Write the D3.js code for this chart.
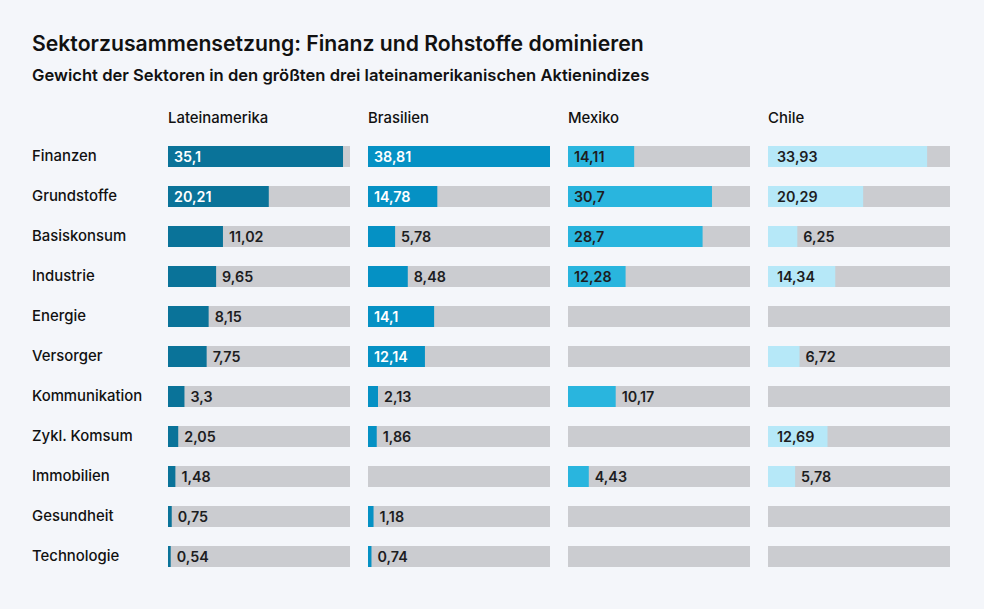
<!doctype html>
<html lang="de">
<head>
<meta charset="utf-8">
<title>Sektorzusammensetzung</title>
<script src="https://cdnjs.cloudflare.com/ajax/libs/d3/7.8.5/d3.min.js"></script>
<style>
  body { margin: 0; background: #f4f6fa; }
  svg { display: block; font-family: Inter, "Open Sans", sans-serif; }
</style>
</head>
<body>
<svg id="svg" width="984" height="609"></svg>
<script>
  // data
  var sectors = ['Finanzen', 'Grundstoffe', 'Basiskonsum', 'Industrie', 'Energie', 'Versorger',
                 'Kommunikation', 'Zykl. Komsum', 'Immobilien', 'Gesundheit', 'Technologie'];
  var regions = ['Lateinamerika', 'Brasilien', 'Mexiko', 'Chile'];
  var lateinamerika = [35.1, 20.21, 11.02, 9.65, 8.15, 7.75, 3.3, 2.05, 1.48, 0.75, 0.54];
  var brasilien = [38.81, 14.78, 5.78, 8.48, 14.1, 12.14, 2.13, 1.86, null, 1.18, 0.74];
  var mexiko = [14.11, 30.7, 28.7, 12.28, null, null, 10.17, null, 4.43, null, null];
  var chile = [33.93, 20.29, 6.25, 14.34, null, 6.72, null, 12.69, 5.78, null, null];

  var values = [lateinamerika, brasilien, mexiko, chile];
  var colors = ['#0a7399', '#0591c4', '#29b5de', '#b6e8f8'];
  var labelInside = ['#ffffff', '#ffffff', '#1d1d1f', '#1d1d1f'];
  var maxima = [36.5, 38.81, 38.81, 38.81];

  var de = d3.formatLocale({decimal: ',', thousands: '.', grouping: [3], currency: ['', ' €']});
  var fmt = de.format('.2~f');

  var svg = d3.select('#svg');

  svg.append('text')
    .attr('x', 32).attr('y', 51)
    .attr('font-size', 21.2).attr('font-weight', 600).attr('fill', '#111')
    .text('Sektorzusammensetzung: Finanz und Rohstoffe dominieren');

  svg.append('text')
    .attr('x', 32).attr('y', 81)
    .attr('font-size', 16.6).attr('font-weight', 600).attr('fill', '#111')
    .text('Gewicht der Sektoren in den größten drei lateinamerikanischen Aktienindizes');

  var col = d3.scaleBand().domain(regions).range([168, 950]).paddingInner(0.09);
  var row = d3.scaleBand().domain(sectors).range([146, 567]).paddingInner(0.475);

  // column headers
  svg.selectAll('.head')
    .data(regions)
    .enter()
    .append('text')
    .attr('class', 'head')
    .attr('x', function(d) { return col(d); })
    .attr('y', 123)
    .attr('font-size', 14.9).attr('font-weight', 500).attr('fill', '#111')
    .text(function(d) { return d; });

  // row labels
  svg.selectAll('.rowlabel')
    .data(sectors)
    .enter()
    .append('text')
    .attr('class', 'rowlabel')
    .attr('x', 32)
    .attr('y', function(d) { return row(d) + row.bandwidth() / 2 + 4; })
    .attr('font-size', 14.9).attr('font-weight', 500).attr('fill', '#111')
    .text(function(d) { return d; });

  regions.forEach(function(region, c) {
    var x = d3.scaleLinear().domain([0, maxima[c]]).range([0, col.bandwidth()]);
    var g = svg.append('g').attr('transform', 'translate(' + col(region) + ',0)');
    var data = sectors.map(function(s, i) { return {sector: s, value: values[c][i]}; });

    g.selectAll('.bg')
      .data(data)
      .enter()
      .append('rect')
      .attr('class', 'bg')
      .attr('x', 0)
      .attr('y', function(d) { return row(d.sector); })
      .attr('width', col.bandwidth())
      .attr('height', row.bandwidth())
      .attr('fill', '#cbccd0');

    var filled = data.filter(function(d) { return d.value != null; });

    g.selectAll('.bar')
      .data(filled)
      .enter()
      .append('rect')
      .attr('class', 'bar')
      .attr('x', 0)
      .attr('y', function(d) { return row(d.sector); })
      .attr('width', function(d) { return x(d.value); })
      .attr('height', row.bandwidth())
      .attr('fill', colors[c]);

    g.selectAll('.val')
      .data(filled)
      .enter()
      .append('text')
      .attr('class', 'val')
      .attr('x', function(d) { return d.value >= 12 ? (c == 3 ? 9 : 6) : x(d.value) + 6; })
      .attr('y', function(d) { return row(d.sector) + row.bandwidth() / 2 + 5; })
      .attr('font-size', 14.3).attr('font-weight', 600)
      .attr('fill', function(d) { return d.value >= 12 ? labelInside[c] : '#1d1d1f'; })
      .text(function(d) { return fmt(d.value); });
  });
</script>
</body>
</html>
